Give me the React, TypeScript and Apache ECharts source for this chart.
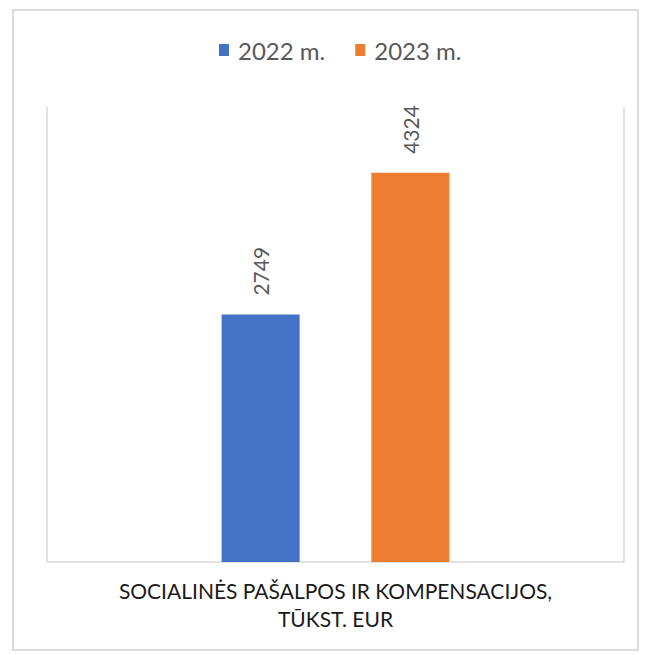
import React, { useEffect, useRef } from "react";
import * as echarts from "echarts";

const categories = ["SOCIALINĖS PAŠALPOS IR KOMPENSACIJOS,\nTŪKST. EUR"];
const seriesNames = ["2022 m.", "2023 m."];
const values2022 = [2749];
const values2023 = [4324];

const FONT = "Lato, 'Open Sans', sans-serif";
const GRID = { left: 47, right: 24, top: 112, bottom: 93 };

export default function App() {
  const ref = useRef<HTMLDivElement>(null);
  useEffect(() => {
    if (!ref.current) return;
    const chart = echarts.init(ref.current, null, { renderer: "svg" });
    const label = {
      show: true,
      position: "top",
      rotate: 90,
      align: "left",
      verticalAlign: "middle",
      distance: 19,
      color: "#595959",
      fontSize: 21,
      fontFamily: FONT,
    };
    chart.setOption({
      animation: false,
      backgroundColor: "#ffffff",
      legend: {
        top: 33,
        left: 214,
        itemWidth: 10,
        itemHeight: 12,
        itemGap: 30,
        icon: "rect",
        textStyle: { color: "#595959", fontSize: 24, fontFamily: FONT, padding: [0, 0, 0, 4] },
        data: seriesNames,
      },
      grid: GRID,
      xAxis: {
        type: "category",
        data: categories,
        axisLine: { show: true, lineStyle: { color: "#d9d9d9", width: 1.5 } },
        axisTick: { show: false },
        axisLabel: {
          color: "#1a1a1a",
          fontSize: 21,
          lineHeight: 28,
          margin: 14,
          fontFamily: FONT,
        },
      },
      yAxis: {
        type: "value",
        min: 0,
        max: 5000,
        show: false,
        splitLine: { show: false },
      },
      graphic: [
        {
          type: "rect",
          shape: { x: 13, y: 10, width: 625, height: 640 },
          style: { fill: "none", stroke: "#dcdcdc", lineWidth: 2 },
          silent: true,
        },
        {
          type: "line",
          shape: { x1: 47, y1: 107, x2: 47, y2: 562 },
          style: { stroke: "#d9d9d9", lineWidth: 1.5 },
          silent: true,
        },
        {
          type: "line",
          shape: { x1: 624, y1: 107, x2: 624, y2: 562 },
          style: { stroke: "#d9d9d9", lineWidth: 1.5 },
          silent: true,
        },
      ],
      series: [
        {
          name: seriesNames[0],
          type: "bar",
          data: values2022,
          barWidth: 78,
          barGap: "92%",
          itemStyle: { color: "#4472C4" },
          label,
        },
        {
          name: seriesNames[1],
          type: "bar",
          data: values2023,
          barWidth: 78,
          itemStyle: { color: "#ED7D31" },
          label,
        },
      ],
    });
    return () => chart.dispose();
  }, []);
  return (
    <div
      ref={ref}
      style={{ position: "fixed", left: 0, top: 0, width: 648, height: 655 }}
    />
  );
}
